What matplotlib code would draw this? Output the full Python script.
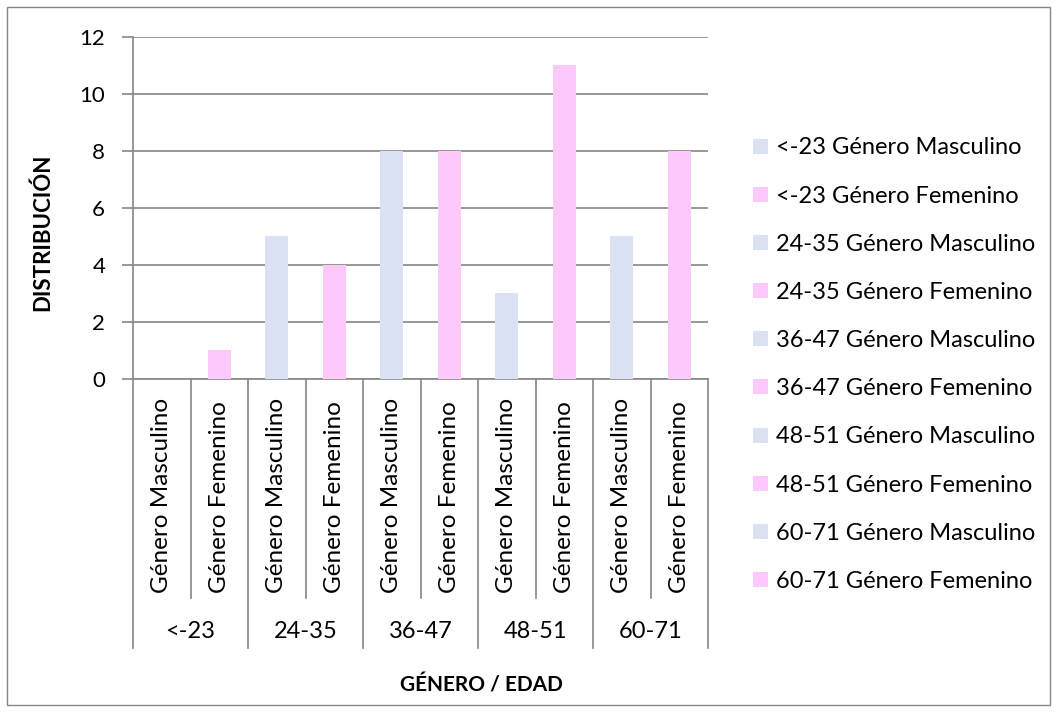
import matplotlib
matplotlib.use('Agg')
import matplotlib.pyplot as plt
from matplotlib.lines import Line2D
from matplotlib.patches import Rectangle
import matplotlib.transforms as mtransforms

plt.rcParams['font.family'] = ['Lato', 'DejaVu Sans']

# counts per age group and gender
age_groups = ['<-23', '24-35', '36-47', '48-51', '60-71']
genders = ['Género Masculino', 'Género Femenino']
masculino = [0, 5, 8, 3, 5]
femenino = [1, 4, 8, 11, 8]
colors = {'Género Masculino': '#D9E1F2', 'Género Femenino': '#FCC9FA'}

W, H = 1058, 713
fig = plt.figure(figsize=(W / 100, H / 100), dpi=100)

# outer chart frame
fig.patches.append(Rectangle((7 / W, 1 - 705 / H), 1043 / W, 698 / H,
                             transform=fig.transFigure, fill=False,
                             edgecolor='#868686', linewidth=1))

ax = fig.add_axes([133 / W, 1 - 379 / H, 575 / W, 342 / H])

grid_col = '#868686'
handles = []
pos = 0
for g, age in enumerate(age_groups):
    for gender, vals in zip(genders, [masculino, femenino]):
        b = ax.bar(pos, vals[g], width=0.4, color=colors[gender],
                   label=f'{age} {gender}', zorder=3)
        handles.append(b)
        pos += 1

ax.set_xlim(-0.5, 9.5)
ax.set_ylim(0, 12)
ax.set_yticks(range(0, 13, 2))
ax.yaxis.grid(True, color=grid_col, linewidth=1.2, zorder=0)
ax.tick_params(axis='y', length=8, width=1.2, color=grid_col,
               labelsize=16, pad=12)
ax.tick_params(axis='x', bottom=False, labelbottom=False)
for side in ['top', 'right']:
    ax.spines[side].set_visible(False)
for side in ['left', 'bottom']:
    ax.spines[side].set_color(grid_col)
    ax.spines[side].set_linewidth(1.2)

# two-level category axis drawn below the plot
trans = mtransforms.blended_transform_factory(ax.transData, fig.transFigure)
y0 = 1 - 379 / H
y_inner = 1 - 598 / H
y_outer = 1 - 648 / H
for i in range(11):
    x = i - 0.5
    y_end = y_outer if i % 2 == 0 else y_inner
    fig.add_artist(Line2D([x, x], [y0, y_end], transform=trans,
                          color=grid_col, linewidth=1.2))
pos = 0
for g, age in enumerate(age_groups):
    for gender in genders:
        fig.text(pos, 1 - 593 / H, gender, transform=trans, rotation=90,
                 ha='center', va='bottom', fontsize=17.5)
        pos += 1
    fig.text(2 * g + 0.5, 1 - 632 / H, age, transform=trans,
             ha='center', va='center', fontsize=17)

fig.text(481 / W, 1 - 686 / H, 'GÉNERO / EDAD', ha='center', va='center',
         fontsize=15, fontweight='bold')
fig.text(43 / W, 1 - 232 / H, 'DISTRIBUCIÓN', ha='center', va='center',
         rotation=90, fontsize=16, fontweight='bold')

fig.legend(handles=handles, loc='upper left',
           bbox_to_anchor=(744 / W, 1 - 128 / H), frameon=False,
           fontsize=17, handlelength=0.6, handleheight=0.6,
           handletextpad=0.35, labelspacing=1.15, borderaxespad=0)

fig.savefig('out.png', dpi=100)
